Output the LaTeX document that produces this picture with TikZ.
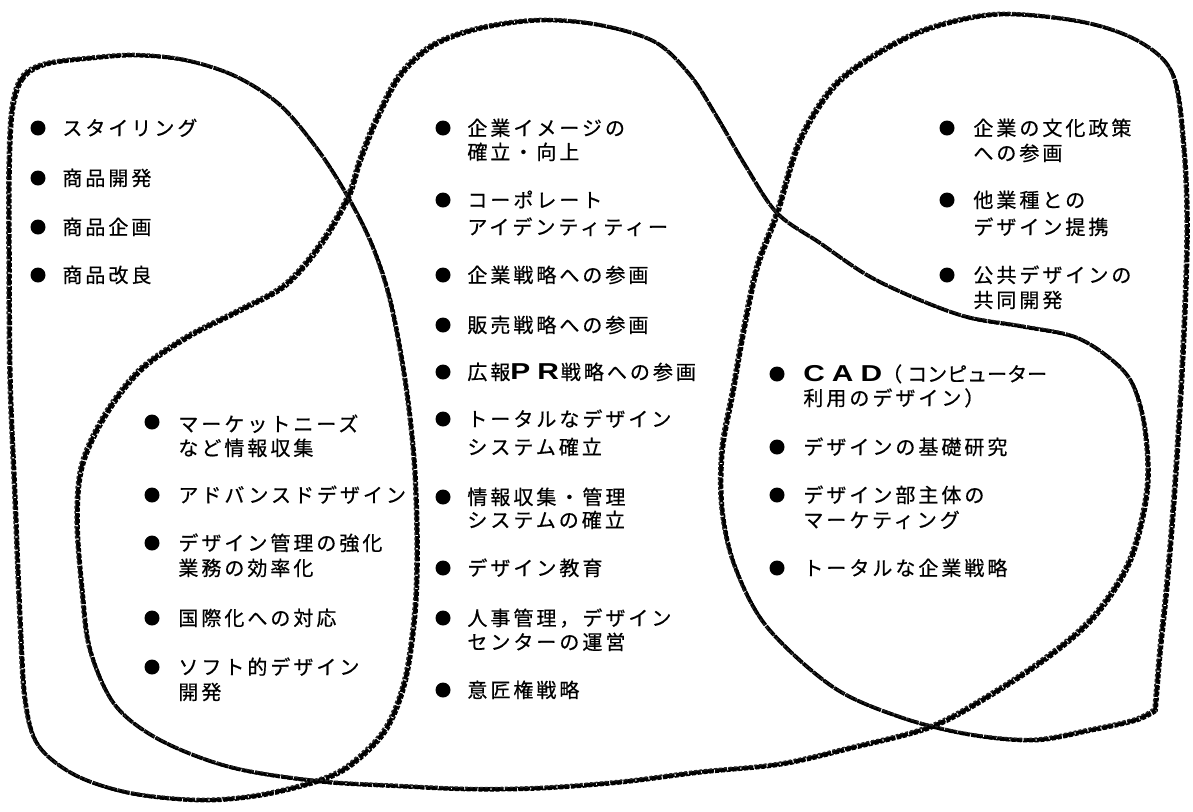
\documentclass[tikz,border=0pt]{standalone}
\usepackage{fontspec}
\newfontfamily\jp[LetterSpace=15,FakeBold=0.6]{Noto Sans CJK JP}
\newfontfamily\latb[FakeStretch=1.3]{Liberation Sans}
\newcommand\bdot[3]{\node[dot] (#1) at (#2,#3) {};}
\newcommand\tline[4]{\node[txt] (#1) at (#2,#3+7.5) {#4};}
\newcommand\bfl[1]{{\latb\bfseries\fontsize{11.5}{12}\selectfont #1}}
\tikzset{
  dot/.style={circle, fill=black, inner sep=0pt, minimum size=7.5pt},
  txt/.style={anchor=base west, inner sep=0pt, font=\jp\fontsize{10}{12}\selectfont},
  crayA/.style={draw=black, line width=1.9pt, line join=round, dash pattern=on 6pt off 0.6pt},
  crayB/.style={draw=black, line width=0.8pt, line join=round, dash pattern=on 2pt off 0.9pt, dash phase=0.7pt},
  crayC/.style={draw=black!85, line width=0.8pt, line join=round, dash pattern=on 1.4pt off 1.1pt, dash phase=1.5pt}
}
\begin{document}
\begin{tikzpicture}[x=0.5pt,y=-0.5pt]
\useasboundingbox (0,0) rectangle (1193,811);
\fill[white] (0,0) rectangle (1193,811);

\foreach \s/\dx/\dy in {crayA/0/0, crayB/2.0/1.6, crayC/-1.9/-1.5}{
\begin{scope}[shift={(\dx,\dy)}]
% loop 1: tall left loop
\draw[\s] plot[smooth cycle, tension=0.55] coordinates {
 (12,110) (22,78) (45,64) (90,58) (135,55) (185,60) (235,76) (280,105) (318,150)
 (348,197) (372,245) (390,300) (405,380) (414,460) (417,540) (415,610) (405,680)
 (385,730) (350,765) (317,781) (260,795) (200,800) (130,793) (75,775) (38,745)
 (25,700) (20,620) (15,500) (10,380) (9,260) (9,170)};
% loop 2: centre top + inner lower-left + bottom + CAD circle
\draw[\s] plot[smooth cycle, tension=0.55] coordinates {
 (348,197) (320,245) (285,285) (240,310) (187,337) (140,370) (105,415) (82,465)
 (77,520) (82,590) (90,650) (115,705) (160,740) (230,767) (317,781) (400,786)
 (470,789) (540,788) (620,782) (700,772) (780,764) (850,748) (930,727) (990,695)
 (1050,655) (1095,615) (1130,560) (1147,490) (1145,430) (1133,385) (1112,360)
 (1075,337) (1020,326) (967,317) (915,298) (867,275) (820,243) (777,213) (745,165)
 (717,117) (690,75) (655,42) (600,25) (540,20) (480,28) (433,45) (400,75)
 (377,118) (360,160)};
% loop 3: right loop
\draw[\s] plot[smooth, tension=0.55] coordinates {
 (1155,710) (1160,650) (1167,583) (1175,483) (1183,350) (1187,233) (1184,150)
 (1173,75) (1140,42) (1083,22) (1000,14) (933,27) (883,50) (835,85) (800,140)
 (777,213) (757,267) (743,333) (733,390) (722,450) (722,510) (735,567) (767,627)
 (833,687) (900,717) (967,734) (1033,740) (1090,730) (1135,720) (1155,710)};
\end{scope}
}

% top-left group
\bdot{a1d}{38}{128} \tline{a1}{62}{128}{スタイリング}
\bdot{a2d}{38}{178} \tline{a2}{62}{178}{商品開発}
\bdot{a3d}{38}{227} \tline{a3}{62}{227}{商品企画}
\bdot{a4d}{38}{275} \tline{a4}{62}{275}{商品改良}

% centre group
\bdot{b1d}{443}{128} \tline{b1}{467}{128}{企業イメージの} \tline{b1b}{467}{152}{確立・向上}
\bdot{b2d}{443}{200} \tline{b2}{467}{200}{コーポレート} \tline{b2b}{467}{227}{アイデンティティー}
\bdot{b3d}{443}{275} \tline{b3}{467}{275}{企業戦略への参画}
\bdot{b4d}{443}{325} \tline{b4}{467}{325}{販売戦略への参画}
\bdot{b5d}{443}{372} \tline{b5}{467}{372}{広報\bfl{P\hspace{3.5pt}R\hspace{1pt}}戦略への参画}
\bdot{b6d}{443}{419} \tline{b6}{467}{419}{トータルなデザイン} \tline{b6b}{467}{447}{システム確立}
\bdot{b7d}{443}{497} \tline{b7}{467}{497}{情報収集・管理} \tline{b7b}{467}{520}{システムの確立}
\bdot{b8d}{443}{568} \tline{b8}{467}{568}{デザイン教育}
\bdot{b9d}{443}{618} \tline{b9}{467}{618}{人事管理，デザイン} \tline{b9b}{467}{642}{センターの運営}
\bdot{b10d}{443}{690} \tline{b10}{467}{690}{意匠権戦略}

% top-right group
\bdot{c1d}{947}{128} \tline{c1}{973}{128}{企業の文化政策} \tline{c1b}{973}{153}{への参画}
\bdot{c2d}{947}{200} \tline{c2}{973}{200}{他業種との} \tline{c2b}{973}{227}{デザイン提携}
\bdot{c3d}{947}{275} \tline{c3}{973}{275}{公共デザインの} \tline{c3b}{973}{300}{共同開発}

% CAD group
\bdot{d1d}{777}{374} \tline{d1}{803}{374}{\bfl{C\hspace{3.5pt}A\hspace{3.5pt}D}（\hspace{2.5pt}{\addfontfeature{LetterSpace=0}コンピューター}}
\tline{d1b}{803}{398}{利用のデザイン）}
\bdot{d2d}{777}{447} \tline{d2}{803}{447}{デザインの基礎研究}
\bdot{d3d}{777}{495} \tline{d3}{803}{495}{デザイン部主体の} \tline{d3b}{803}{520}{マーケティング}
\bdot{d4d}{777}{568} \tline{d4}{803}{568}{トータルな企業戦略}

% lower-left group
\bdot{e1d}{152}{422} \tline{e1}{178}{424}{マーケットニーズ} \tline{e1b}{178}{448}{など情報収集}
\bdot{e2d}{152}{495} \tline{e2}{178}{495}{アドバンスドデザイン}
\bdot{e3d}{152}{543} \tline{e3}{178}{543}{デザイン管理の強化} \tline{e3b}{178}{568}{業務の効率化}
\bdot{e4d}{152}{618} \tline{e4}{178}{618}{国際化への対応}
\bdot{e5d}{152}{667} \tline{e5}{178}{667}{ソフト的デザイン} \tline{e5b}{178}{692}{開発}
\end{tikzpicture}
\end{document}
